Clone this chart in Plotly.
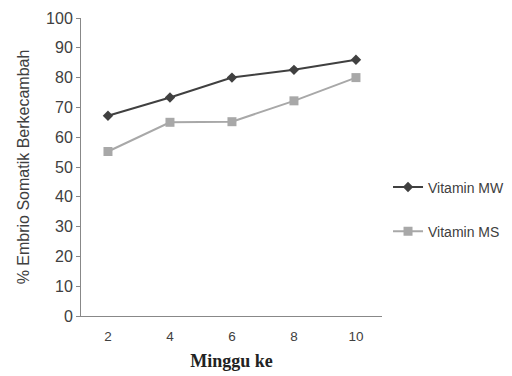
import plotly.graph_objects as go

weeks = [2, 4, 6, 8, 10]
vit_mw = [67.2, 73.3, 80.0, 82.6, 86.0]
vit_ms = [55.2, 65.0, 65.2, 72.2, 80.0]
y_ticks = [0, 10, 20, 30, 40, 50, 60, 70, 80, 90, 100]

fig = go.Figure()
fig.add_trace(go.Scatter(
    x=weeks, y=vit_mw, name="Vitamin MW", mode="lines+markers",
    line=dict(color="#404040", width=2),
    marker=dict(symbol="diamond", size=8, color="#404040"),
    legendgroup="a"))
fig.add_trace(go.Scatter(
    x=weeks, y=vit_ms, name="Vitamin MS", mode="lines+markers",
    line=dict(color="#A8A8A8", width=2),
    marker=dict(symbol="square", size=9, color="#A8A8A8"),
    legendgroup="b"))

fig.update_layout(
    width=512, height=376,
    margin=dict(l=81, r=130, t=18, b=60, autoexpand=False),
    paper_bgcolor="white", plot_bgcolor="white",
    font=dict(family="Liberation Sans, Arial, sans-serif", size=12, color="#404040"),
    showlegend=True,
    legend=dict(x=1.02, y=0.485, xanchor="left", yanchor="top",
                tracegroupgap=23, font=dict(size=14, color="#404040"),
                bgcolor="rgba(0,0,0,0)"),
    xaxis=dict(range=[1.13, 10.84], tickvals=weeks, ticktext=[str(w) for w in weeks],
               showgrid=False, zeroline=False, showline=True, linecolor="#888888",
               linewidth=1, ticks="", ticklabelstandoff=8,
               tickfont=dict(size=13.5, color="#404040"),
               title=dict(text="<b>Minggu ke</b>", standoff=11,
                          font=dict(family="Liberation Serif, Times New Roman, serif", size=18, color="#222222"))),
    yaxis=dict(range=[0, 100], tickvals=y_ticks, showgrid=False, zeroline=False,
               showline=True, linecolor="#888888", linewidth=1,
               ticks="outside", ticklen=4, tickcolor="#888888",
               tickfont=dict(size=16, color="#404040"),
               title=dict(text="% Embrio Somatik Berkecambah", standoff=12,
                          font=dict(size=16, color="#404040"))),
)

fig.write_html("out.html")
